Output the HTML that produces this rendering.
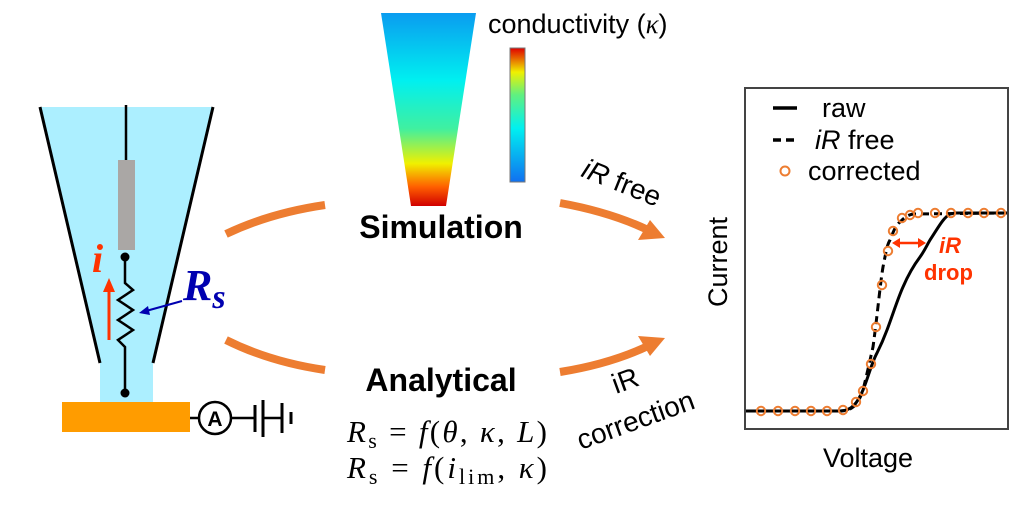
<!DOCTYPE html>
<html><head><style>body{margin:0;background:#fff}svg{display:block}</style></head><body>
<svg width="1024" height="514" viewBox="0 0 1024 514" xmlns="http://www.w3.org/2000/svg" font-family="Liberation Sans, sans-serif">
<defs>
<linearGradient id="g1" x1="0" y1="0" x2="0" y2="1">
<stop offset="0" stop-color="#0a9cf0"/><stop offset="0.35" stop-color="#00f0f0"/><stop offset="0.6" stop-color="#40f0a0"/><stop offset="0.78" stop-color="#f0f000"/><stop offset="0.9" stop-color="#ff6000"/><stop offset="1" stop-color="#d00000"/>
</linearGradient>
<linearGradient id="g2" x1="0" y1="1" x2="0" y2="0">
<stop offset="0" stop-color="#1070f0"/><stop offset="0.4" stop-color="#00f0f0"/><stop offset="0.65" stop-color="#60f080"/><stop offset="0.82" stop-color="#f0f000"/><stop offset="1" stop-color="#e00000"/>
</linearGradient>
</defs>
<path d="M40,107 L213,107 L153,363 L153,402 L100,402 L100,363 Z" fill="#acefff"/>
<line x1="40" y1="107" x2="100" y2="363" stroke="#000" stroke-width="3"/>
<line x1="213" y1="107" x2="153" y2="363" stroke="#000" stroke-width="3"/>
<line x1="126" y1="105" x2="126" y2="160" stroke="#000" stroke-width="2.5"/>
<rect x="118" y="160" width="17" height="90" fill="#aaa7a5"/>
<circle cx="125" cy="257" r="4.5" fill="#000"/>
<polyline points="125,257 125,283 133,290 118,300 133,310 118,320 133,330 118,340 125,347 125,393" fill="none" stroke="#000" stroke-width="2.5"/>
<circle cx="125" cy="393" r="4.5" fill="#000"/>
<rect x="62" y="402" width="128" height="30" fill="#ff9c00"/>
<line x1="190" y1="418" x2="255" y2="418" stroke="#000" stroke-width="2.5"/>
<circle cx="215" cy="418" r="16" fill="#fff" stroke="#000" stroke-width="2.5"/>
<text x="215" y="426" font-size="21" font-weight="bold" text-anchor="middle">A</text>
<line x1="255" y1="405" x2="255" y2="432" stroke="#000" stroke-width="3"/>
<line x1="263" y1="400" x2="263" y2="437" stroke="#000" stroke-width="3"/>
<line x1="263" y1="418" x2="282" y2="418" stroke="#000" stroke-width="2.5"/>
<line x1="282" y1="403" x2="282" y2="433" stroke="#000" stroke-width="3"/>
<line x1="291" y1="412" x2="291" y2="424" stroke="#000" stroke-width="3"/>
<text x="92" y="272" font-family="Liberation Serif, serif" font-size="40" font-style="italic" font-weight="bold" fill="#ff3300">i</text>
<line x1="109" y1="340" x2="109" y2="290" stroke="#ff3300" stroke-width="3"/>
<polygon points="103,292 115,292 109,278" fill="#ff3300"/>
<text x="183" y="300" font-family="Liberation Serif, serif" font-size="44" font-style="italic" font-weight="bold" fill="#0000b0">R<tspan font-size="34" dy="8">s</tspan></text>
<line x1="182" y1="301" x2="146" y2="311" stroke="#0000b0" stroke-width="2"/>
<polygon points="139,313 148,306 150,315" fill="#0000b0"/>
<path d="M226,234 Q270,213 325,205" fill="none" stroke="#ed7d31" stroke-width="8"/>
<path d="M226,340 Q270,362 325,370" fill="none" stroke="#ed7d31" stroke-width="8"/>
<polygon points="381,13 476,13 446,206 411,206" fill="url(#g1)"/>
<rect x="510" y="48" width="15" height="134" fill="url(#g2)" stroke="#777" stroke-width="1"/>
<text x="488" y="33" font-size="27">conductivity (<tspan font-family="Liberation Serif, serif" font-style="italic">κ</tspan>)</text>
<text x="441" y="238" font-size="32" font-weight="bold" text-anchor="middle">Simulation</text>
<text x="441" y="391" font-size="32" font-weight="bold" text-anchor="middle">Analytical</text>
<text x="347" y="442" font-family="Liberation Serif, serif" font-size="31" textLength="200" lengthAdjust="spacing"><tspan font-style="italic">R</tspan><tspan font-size="22" dy="6">s</tspan><tspan dy="-6"> = </tspan><tspan font-style="italic">f</tspan>(<tspan font-style="italic">θ</tspan>, <tspan font-style="italic">κ</tspan>, <tspan font-style="italic">L</tspan>)</text>
<text x="347" y="478" font-family="Liberation Serif, serif" font-size="31" textLength="200" lengthAdjust="spacing"><tspan font-style="italic">R</tspan><tspan font-size="22" dy="6">s</tspan><tspan dy="-6"> = </tspan><tspan font-style="italic">f</tspan>(<tspan font-style="italic">i</tspan><tspan font-size="22" dy="6">lim</tspan><tspan dy="-6">, </tspan><tspan font-style="italic">κ</tspan>)</text>
<path d="M560,203 Q610,212 648,230" fill="none" stroke="#ed7d31" stroke-width="8"/>
<polygon points="665,238 638,240 650,220" fill="#ed7d31"/>
<path d="M560,372 Q610,364 648,346" fill="none" stroke="#ed7d31" stroke-width="8"/>
<polygon points="665,338 650,356 638,336" fill="#ed7d31"/>
<text transform="translate(580,176) rotate(22)" font-size="28"><tspan font-style="italic">iR</tspan> free</text>
<text transform="translate(616,394) rotate(-20)" font-size="28">iR</text>
<text transform="translate(581,450) rotate(-20)" font-size="28">correction</text>
<rect x="745" y="88" width="263" height="341" fill="none" stroke="#444" stroke-width="2"/>
<text transform="translate(727,262) rotate(-90)" font-size="27" text-anchor="middle">Current</text>
<text x="868" y="467" font-size="27" text-anchor="middle">Voltage</text>
<line x1="773" y1="108" x2="797" y2="108" stroke="#000" stroke-width="3.5"/>
<text x="822" y="117" font-size="27">raw</text>
<line x1="773" y1="140" x2="797" y2="140" stroke="#000" stroke-width="3.5" stroke-dasharray="8,5"/>
<text x="815" y="149" font-size="27"><tspan font-style="italic">iR</tspan> free</text>
<circle cx="785" cy="171" r="4.5" fill="none" stroke="#ed7d31" stroke-width="2"/>
<text x="808" y="180" font-size="27">corrected</text>
<path d="M746,411 L840,411 C852,411 858,402 863,390 C869,375 872,362 877,353 C882,343 884,338 887,330 C893,314 898,298 903,287 C909,273 914,265 920,257 C925,250 927,245 930,240 C938,228 943,218 950,214 L955,213 L1007,213" fill="none" stroke="#000" stroke-width="3"/>
<path d="M746,411 L840,411 C852,411 858,405 863,390 C868,370 870,360 873,347 C878,310 880,285 883,267 C886,252 887,245 890,240 C894,230 896,225 900,222 C905,217 908,215 913,214 L1007,213" fill="none" stroke="#000" stroke-width="3" stroke-dasharray="8,5"/>
<g fill="none" stroke="#ed7d31" stroke-width="2">
<circle cx="761" cy="411" r="4.2"/><circle cx="778" cy="411" r="4.2"/><circle cx="795" cy="411" r="4.2"/><circle cx="811" cy="411" r="4.2"/><circle cx="827" cy="411" r="4.2"/><circle cx="843" cy="410" r="4.2"/><circle cx="856" cy="402" r="4.2"/><circle cx="863" cy="391" r="4.2"/><circle cx="871" cy="364" r="4.2"/><circle cx="876" cy="327" r="4.2"/><circle cx="882" cy="285" r="4.2"/><circle cx="888" cy="251" r="4.2"/><circle cx="893" cy="231" r="4.2"/><circle cx="902" cy="218" r="4.2"/><circle cx="910" cy="215" r="4.2"/><circle cx="918" cy="213" r="4.2"/><circle cx="935" cy="213" r="4.2"/><circle cx="951" cy="213" r="4.2"/><circle cx="968" cy="213" r="4.2"/><circle cx="984" cy="213" r="4.2"/><circle cx="1001" cy="213" r="4.2"/>
</g>
<line x1="899" y1="243" x2="919" y2="243" stroke="#ff3300" stroke-width="2.5"/>
<polygon points="892,243 900,238 900,248" fill="#ff3300"/>
<polygon points="926,243 918,238 918,248" fill="#ff3300"/>
<text x="939" y="253" font-size="22" font-weight="bold" font-style="italic" fill="#ff3300">iR</text>
<text x="924" y="280" font-size="22" font-weight="bold" fill="#ff3300">drop</text>
</svg>
</body></html>
